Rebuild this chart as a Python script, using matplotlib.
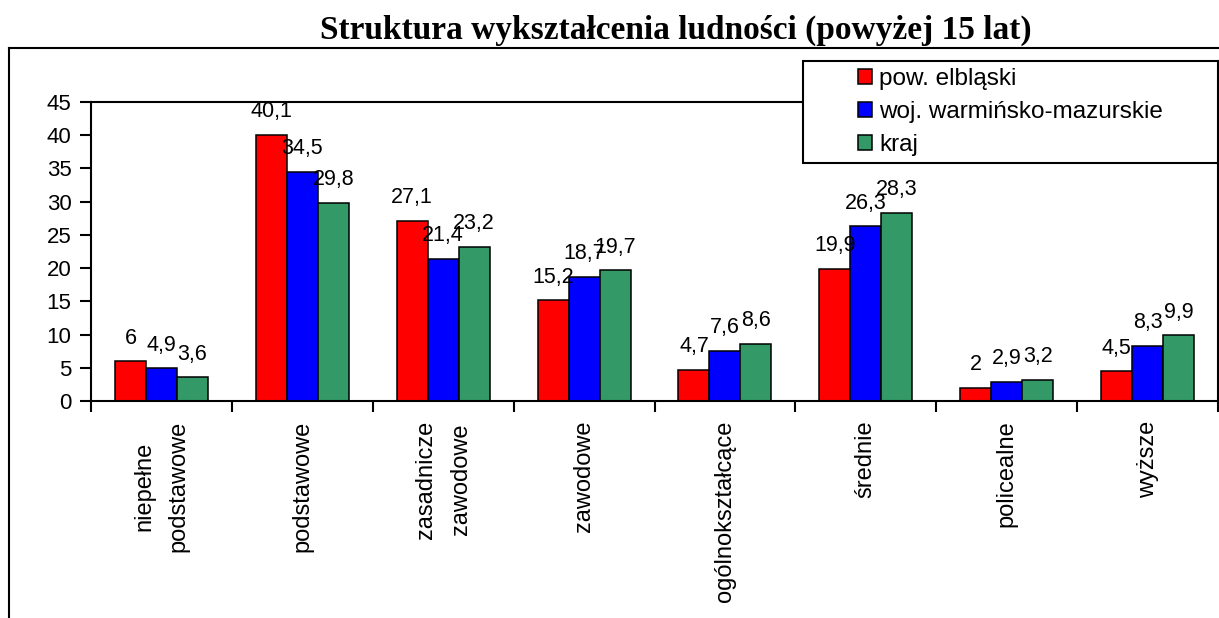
import matplotlib
matplotlib.use('Agg')
from matplotlib import pyplot as plt
from matplotlib.patches import Rectangle
from matplotlib.lines import Line2D
import numpy as np

plt.rcParams['font.family'] = ['Liberation Sans', 'DejaVu Sans']

kategorie = ['niepełne\npodstawowe', 'podstawowe', 'zasadnicze\nzawodowe', 'zawodowe',
             'ogólnokształcące', 'średnie', 'policealne', 'wyższe']
serie = ['pow. elbląski', 'woj. warmińsko-mazurskie', 'kraj']
pow_elblaski = [6, 40.1, 27.1, 15.2, 4.7, 19.9, 2, 4.5]
woj_wm = [4.9, 34.5, 21.4, 18.7, 7.6, 26.3, 2.9, 8.3]
kraj = [3.6, 29.8, 23.2, 19.7, 8.6, 28.3, 3.2, 9.9]
kolory = ['#FF0000', '#0000FF', '#339966']

W, H = 1219, 618
fig = plt.figure(figsize=(W / 100, H / 100), dpi=100)
ax = fig.add_axes([91 / W, 1 - 401 / H, (1218 - 91) / W, (401 - 102) / H])

x = np.arange(len(kategorie))
szer = 0.22
for i, (dane, nazwa, kol) in enumerate(zip([pow_elblaski, woj_wm, kraj], serie, kolory)):
    slupki = ax.bar(x + (i - 1) * szer, dane, width=szer, color=kol,
                    edgecolor='black', linewidth=1.1, label=nazwa, zorder=2)
    for s, v in zip(slupki, dane):
        ax.annotate(f'{v:g}'.replace('.', ','), (s.get_x() + s.get_width() / 2, v),
                    xytext=(0, 9), textcoords='offset points',
                    ha='center', va='bottom', fontsize=15.5, zorder=3)

ax.set_xlim(-0.5, len(kategorie) - 0.5)
ax.set_ylim(0, 45)
ax.set_yticks(range(0, 46, 5))
ax.set_xticks(x)
etykiety = ax.set_xticklabels(kategorie, rotation=90, va='top', ha='center',
                              multialignment='center', fontsize=17)
for e in etykiety:
    e.set_linespacing(1.75)
ax.set_xticks(np.arange(-0.5, len(kategorie), 1), minor=True)
ax.tick_params(axis='x', which='major', length=0, pad=14)
ax.tick_params(axis='x', which='minor', length=8, width=1.5, direction='out')
ax.tick_params(axis='y', length=8, width=1.5, direction='out', labelsize=16, pad=6)
for sp in ax.spines.values():
    sp.set_linewidth(1.5)

# ramka legendy
lx0 = (803 - 91) / (1218 - 91)
ly0 = (401 - 163) / (401 - 102)
ly1 = (401 - 61) / (401 - 102)
ax.add_patch(Rectangle((lx0, ly0), 1 - lx0, ly1 - ly0, transform=ax.transAxes,
                       facecolor='white', edgecolor='black', linewidth=1.5,
                       clip_on=False, zorder=5))
leg = ax.legend(loc='center', bbox_to_anchor=((lx0 + 1) / 2, (ly0 + ly1) / 2),
                frameon=False, fontsize=17.5, handlelength=0.55, handleheight=0.55,
                handletextpad=0.3, labelspacing=0.45, borderaxespad=0)
leg.set_zorder(6)

# zewnętrzna ramka wykresu
fig.add_artist(Line2D([9 / W, 9 / W], [0, 1 - 48 / H], color='black', linewidth=1.5))
fig.add_artist(Line2D([9 / W, 1], [1 - 48 / H, 1 - 48 / H], color='black', linewidth=1.5))

fig.text(676 / W, 1 - 30 / H, 'Struktura wykształcenia ludności (powyżej 15 lat)',
         ha='center', va='center', fontsize=24, fontweight='bold',
         family=['Liberation Serif', 'DejaVu Serif'])

plt.savefig('out.png', dpi=100)
